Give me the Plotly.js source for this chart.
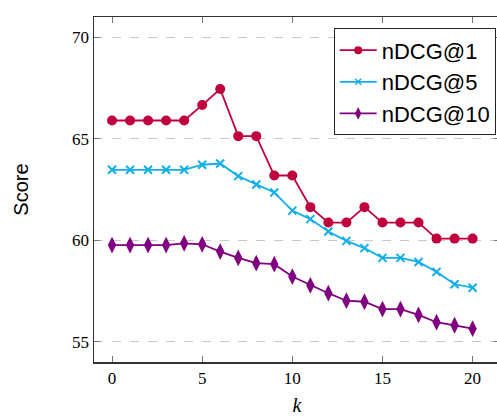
<!DOCTYPE html>
<html>
<head>
<meta charset="utf-8">
<script src="https://cdn.plot.ly/plotly-3.0.1.min.js"></script>
<style>html,body{margin:0;padding:0;background:#fff;overflow:hidden;}#chart{width:500px;height:416px;}</style>
</head>
<body>
<div id="chart"></div>
<script>
const k = [0,1,2,3,4,5,6,7,8,9,10,11,12,13,14,15,16,17,18,19,20];
const ndcg1 = [65.9,65.9,65.9,65.9,65.9,66.66,67.45,65.13,65.13,63.19,63.19,61.63,60.87,60.87,61.63,60.87,60.87,60.87,60.08,60.08,60.08];
const ndcg5 = [63.47,63.47,63.47,63.47,63.47,63.72,63.78,63.16,62.75,62.35,61.46,61.04,60.43,59.97,59.61,59.13,59.13,58.93,58.44,57.83,57.66];
const ndcg10 = [59.76,59.76,59.76,59.76,59.85,59.80,59.44,59.13,58.87,58.82,58.21,57.78,57.39,57.02,56.97,56.61,56.61,56.32,55.96,55.81,55.64];
const seriesNames = ["nDCG@1","nDCG@5","nDCG@10"];
const xTicks = [0,5,10,15,20];
const yTicks = [55,60,65,70];

const colors = ['#c0003c','#12aee8','#800080'];
const sym = ['circle','x-thin','diamond-tall'];
const sizes = [10,8,12];
const legendSizes = [8,6,9];
const data = [ndcg1, ndcg5, ndcg10];

const traces = [];
data.forEach((ys,i)=>{
  traces.push({x:k, y:ys, name:seriesNames[i], mode:'lines+markers', showlegend:false, legendgroup:'g'+i,
    line:{color:colors[i], width:1.8},
    marker:{symbol:sym[i], size:sizes[i], color:colors[i], line:{color:colors[i], width: i===1?2:0}}});
});
data.forEach((ys,i)=>{
  traces.push({x:[null], y:[null], name:seriesNames[i], mode:'lines+markers', showlegend:true, legendgroup:'g'+i,
    line:{color:colors[i], width:1.8},
    marker:{symbol:sym[i], size:legendSizes[i], color:colors[i], line:{color:colors[i], width: i===1?1.5:0}}});
});

const serif = 'Liberation Serif, DejaVu Serif, serif';
const sans = 'Liberation Sans, Arial, sans-serif';

const layout = {
  width:500, height:416,
  margin:{l:94, r:0, t:17, b:54},
  paper_bgcolor:'#fff', plot_bgcolor:'#fff',
  showlegend:true,
  legend:{x:(495.7-94)/406, y:0.967, xanchor:'right', yanchor:'top',
    bgcolor:'#fff', bordercolor:'#222', borderwidth:1, tracegroupgap:0,
    font:{family:sans, size:22, color:'#000'}, itemwidth:37},
  xaxis:{range:[-1,21.52], tickvals:xTicks, ticktext:xTicks.map(String),
    ticks:'inside', ticklen:6, tickcolor:'#777', tickwidth:1,
    showline:true, linecolor:'#333', linewidth:1.5, mirror:'ticks',
    showgrid:false, zeroline:false,
    tickfont:{family:serif, size:17, color:'#000'},
    title:{text:'<i>k</i>', font:{family:serif, size:20, color:'#000'}, standoff:21}},
  yaxis:{range:[54,71], tickvals:yTicks, ticktext:yTicks.map(String),
    ticks:'inside', ticklen:6, tickcolor:'#777', tickwidth:1,
    showline:true, linecolor:'#333', linewidth:1.5, mirror:'ticks',
    showgrid:true, gridcolor:'#c8c8c8', griddash:'dash', gridwidth:1,
    zeroline:false,
    tickfont:{family:serif, size:17, color:'#000'},
    title:{text:'Score', font:{family:sans, size:20, color:'#000'}, standoff:38}}
};

Plotly.newPlot('chart', traces, layout, {displayModeBar:false, staticPlot:true});
</script>
</body>
</html>
